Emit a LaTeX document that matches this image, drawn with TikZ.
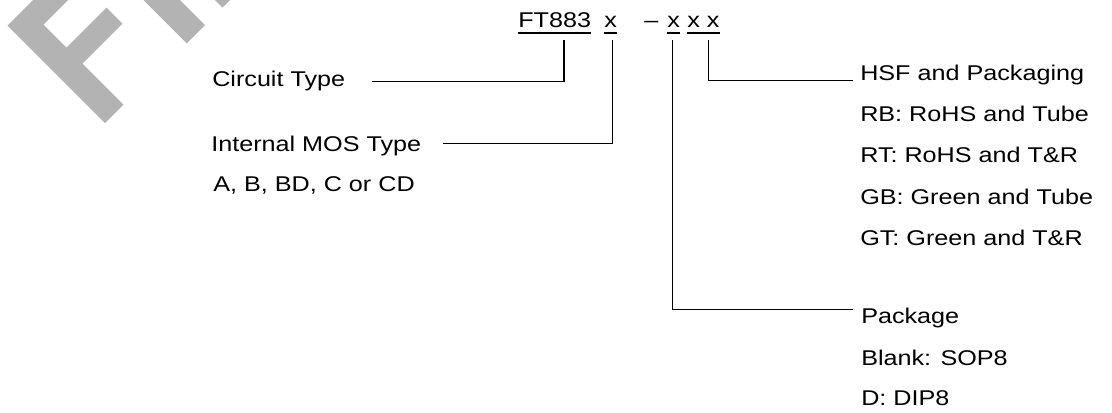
\documentclass[tikz,border=0pt]{standalone}
\usepackage{fontspec}
\setmainfont{Liberation Sans}[FakeStretch=1.18]
\usepackage{tikz}
\usetikzlibrary{calc}
\definecolor{wmgray}{RGB}{179,179,179}

\tikzset{
    txt/.style={anchor=base west, inner sep=0pt, font=\fontsize{16}{19}\selectfont},
    conn/.style={line width=1pt},
    uline/.style={line width=1pt}
}

\begin{document}
\begin{tikzpicture}[x=0.75pt, y=-0.75pt]
        \useasboundingbox (0,0) rectangle (1112,412);

        % watermark pieces
        \fill[wmgray] (7.5,25.5) -- (33,0) -- (68,0) -- (43.5,24.5) -- (66.5,47.5) -- (106.5,7.5)
            -- (122.5,23.5) -- (82.5,63.5) -- (123.5,104.5) -- (105,123) -- cycle;
        \fill[wmgray] (143.5,0) -- (186.75,43.25) -- (205,25) -- (180,0) -- cycle;
        \fill[wmgray] (215,0) -- (230,0) -- (222.5,7.5) -- cycle;

        % part number
        \node[txt] (ft) at (518,27.5) {FT883};
        \node[txt] (x1) at (604,27.5) {x};
        \node[txt] (dash) at (644,27.5) {--};
        \node[txt] (x2) at (667,27.5) {x};
        \node[txt] (x34) at (687,27.5) {x x};

        \foreach \n in {ft, x1, x2, x34} {
            \draw[uline] ([yshift=-4pt]\n.base west) -- ([yshift=-4pt]\n.base east);
        }

        % left labels
        \node[txt] (ct) at (212,86) {Circuit Type};
        \node[txt] (mos) at (211,151.7) {Internal MOS Type};
        \node[txt] (mosv) at (213,191) {A, B, BD, C or CD};

        % right labels
        \node[txt] (hsf) at (860,80) {HSF and Packaging};
        \node[txt] (rb) at (860,121) {RB: RoHS and Tube};
        \node[txt] (rt) at (860,162) {RT: RoHS and T\&R};
        \node[txt] (gb) at (860,204) {GB: Green and Tube};
        \node[txt] (gt) at (860,245) {GT: Green and T\&R};

        \node[txt] (pkg) at (861,323.3) {Package};
        \node[txt] (pkgb) at (861,365) {Blank: SOP8};
        \node[txt] (pkgd) at (861,405) {D: DIP8};

        % connector ends
        \coordinate (t1) at (564,40);
        \coordinate (t2) at (612.7,40);
        \coordinate (t3) at (672.3,40);
        \coordinate (t4) at (708.7,40);
        \coordinate (c1) at (372,81.7);
        \coordinate (c2) at (443,143.3);
        \coordinate (c3) at (853,309.3);
        \coordinate (c4) at (853,80.7);

        \draw[conn] (t1) |- (c1);
        \draw[conn] (t2) |- (c2);
        \draw[conn] (t3) |- (c3);
        \draw[conn] (t4) |- (c4);

    \end{tikzpicture}
\end{document}
